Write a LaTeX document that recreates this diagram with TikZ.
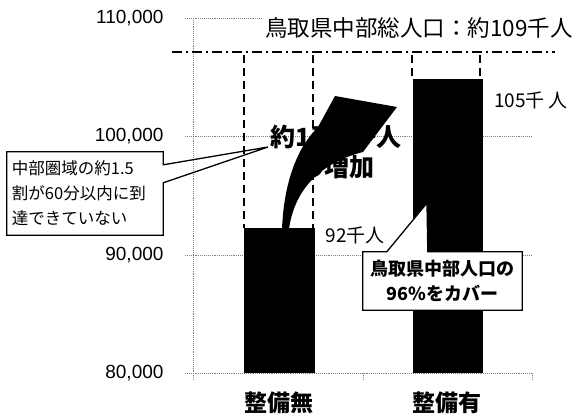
\documentclass[tikz,border=0pt]{standalone}
\usepackage{fontspec}
\setmainfont{Noto Sans CJK JP}
\newfontfamily\numfont{Liberation Sans}

\begin{document}
\begin{tikzpicture}[x=1pt,y=-1pt,
    grid/.style={gray,densely dotted,line width=0.9pt},
    bar/.style={fill=black},
    guide/.style={line width=2pt,dash pattern=on 8pt off 5pt},
    total/.style={line width=1.8pt,dash pattern=on 10pt off 4pt on 2pt off 4pt},
    outline/.style={line width=1.3pt},
    cbox/.style={fill=white,inner sep=0pt,align=left}]
\useasboundingbox (0,0) rectangle (576,417);

%draw grid lines, axis and tick labels
    \foreach \y/\v in {373/80,255/90,136/100,18/110}
    {
    \draw[grid] (185,\y) -- (532,\y);
    \node[anchor=east,font=\numfont\fontsize{19}{21}\selectfont] (tick\v) at (167,\y) {\v,000};
    }
    \draw[grid] (193,18) -- (193,373);
    \foreach \x in {193,363,532}
    \draw[grid] (\x,373) -- (\x,379);

%draw total population line
    \draw[total] (172,52) -- (555,52);
    \node[anchor=west,fill=white,inner sep=2pt,font=\fontsize{22.5}{24}\selectfont] (total) at (263,28) {鳥取県中部総人口：約109千人};

%draw bars
    \fill[bar] (244,228) rectangle (315,373);
    \fill[bar] (413,79) rectangle (483,373);

%draw vertical guides
    \foreach \x/\y in {244/228,313/228,412/79,480/79}
    \draw[guide] (\x,55) -- (\x,\y);

%    {\tiny increase text, partly under the arrow}
    \node[font=\bfseries\fontsize{25}{27}\selectfont] (inc1) at (336,137) {約1万3千人};
    \node[font=\bfseries\fontsize{25}{27}\selectfont] (inc2) at (337,167) {の増加};

%draw curved arrow
    \fill[black] (282,229) .. controls (284,182) and (297,148) .. (318,127)
        -- (335,96) -- (397,107) -- (363,152)
        .. controls (324,162) and (295,186) .. (289,229) -- cycle;

%draw value labels
    \node[font=\fontsize{19}{21}\selectfont] (val1) at (355,235) {92千人};
    \node[font=\fontsize{19}{21}\selectfont] (val2) at (531,100) {105千 人};

%draw callouts
    \coordinate (ptr1) at (268,147);
    \node[cbox,minimum width=156pt,minimum height=83pt,text width=146pt,
        font=\fontsize{16.5}{25}\selectfont] (cb1) at (85,193.5) {中部圏域の約1.5\\割が60分以内に到\\達できていない};
    \draw[outline] (cb1.north west) -- (cb1.north east) -- ([yshift=-13pt]cb1.north east) -- (ptr1)
        -- ([yshift=-31pt]cb1.north east) -- (cb1.south east) -- (cb1.south west) -- cycle;

    \coordinate (ptr2) at (427,203);
    \node[cbox,align=center,minimum width=159pt,minimum height=58pt,
        font=\bfseries\fontsize{18}{25}\selectfont] (cb2) at (442.5,281) {鳥取県中部人口の\\96\%をカバー};
    \fill[white] ([xshift=24pt]cb2.north west) -- (ptr2) -- ([xshift=65pt]cb2.north west) -- cycle;
    \draw[outline] (cb2.north west) -- ([xshift=24pt]cb2.north west) -- (ptr2) -- ([xshift=65pt]cb2.north west)
        -- (cb2.north east) -- (cb2.south east) -- (cb2.south west) -- cycle;

%draw category labels
    \node[font=\bfseries\fontsize{23}{25}\selectfont] (cat1) at (279,403) {整備無};
    \node[font=\bfseries\fontsize{23}{25}\selectfont] (cat2) at (447,403) {整備有};

\end{tikzpicture}
\end{document}
